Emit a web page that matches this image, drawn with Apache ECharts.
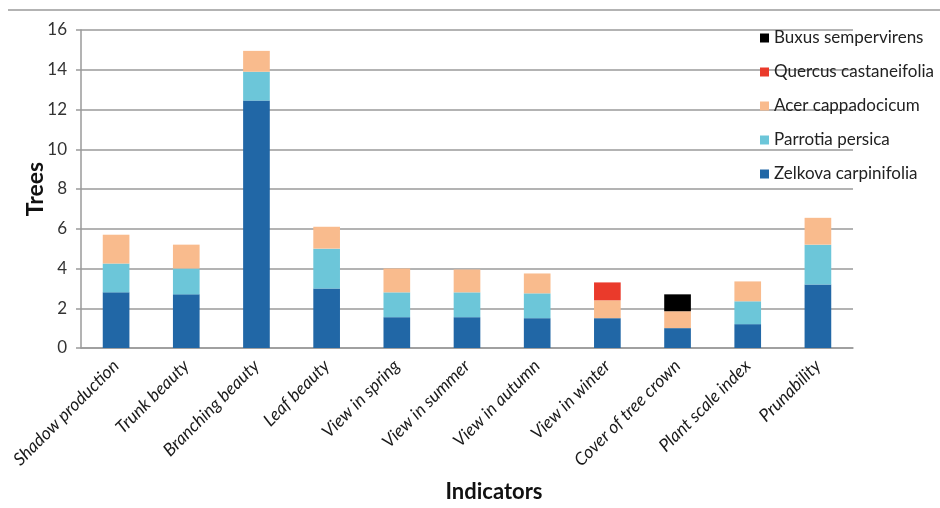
<!DOCTYPE html>
<html>
<head>
<meta charset="utf-8">
<script src="https://cdn.jsdelivr.net/npm/echarts@6/dist/echarts.min.js"></script>
<style>
  html, body { margin: 0; padding: 0; background: #fff; }
  #chart { width: 940px; height: 508px; }
</style>
</head>
<body>
<div id="chart"></div>
<script>
// Indicator categories along the x axis
var indicators = ['Shadow production', 'Trunk beauty', 'Branching beauty', 'Leaf beauty',
  'View in spring', 'View in summer', 'View in autumn', 'View in winter',
  'Cover of tree crown', 'Plant scale index', 'Prunability'];

// Stacked scores per species
var zelkova   = [2.8, 2.7, 12.45, 3.0, 1.55, 1.55, 1.5, 1.5, 1.0, 1.2, 3.2];
var parrotia  = [1.45, 1.3, 1.45, 2.0, 1.25, 1.25, 1.25, 0, 0, 1.15, 2.0];
var acer      = [1.45, 1.2, 1.05, 1.1, 1.2, 1.15, 1.0, 0.9, 0.85, 1.0, 1.35];
var quercus   = [0, 0, 0, 0, 0, 0, 0, 0.9, 0, 0, 0];
var buxus     = [0, 0, 0, 0, 0, 0, 0, 0, 0.85, 0, 0];

var yTicks = [0, 2, 4, 6, 8, 10, 12, 14, 16];

var chart = echarts.init(document.getElementById('chart'));

function bar(name, data, color) {
  return {
    name: name, type: 'bar', stack: 'total', data: data,
    barWidth: '38%',
    itemStyle: { color: color },
    emphasis: { disabled: true }
  };
}

chart.setOption({
  animation: false,
  textStyle: { fontFamily: 'Lato' },
  grid: { left: 81, right: 87, top: 30, bottom: 154, containLabel: false },
  legend: {
    orient: 'vertical',
    left: 755,
    top: 24,
    itemWidth: 9,
    itemHeight: 9,
    itemGap: 16,
    icon: 'rect',
    textStyle: { fontSize: 17, color: '#222', lineHeight: 18, fontFamily: 'Lato' },
    data: ['Buxus sempervirens', 'Quercus castaneifolia', 'Acer cappadocicum',
      'Parrotia persica', 'Zelkova carpinifolia']
  },
  graphic: [{
    type: 'line',
    shape: { x1: 8, y1: 10, x2: 940, y2: 10 },
    style: { stroke: '#9a9a9a', lineWidth: 1.5 }
  }],
  xAxis: {
    type: 'category',
    data: indicators,
    name: 'Indicators',
    nameLocation: 'middle',
    nameGap: 133,
    nameMoveOverlap: false,
    nameTextStyle: { fontSize: 22, fontWeight: 'bold', color: '#111', fontFamily: 'Lato',
      padding: [0, 0, 0, 54] },
    axisLine: { lineStyle: { color: '#9a9a9a', width: 1.5 } },
    axisTick: { alignWithLabel: false, length: 5, lineStyle: { color: '#9a9a9a', width: 1.5 } },
    axisLabel: {
      rotate: 45, interval: 0, fontSize: 17.5, fontStyle: 'italic', color: '#1a1a1a', margin: 15,
      fontFamily: 'Lato'
    }
  },
  yAxis: {
    type: 'value',
    min: yTicks[0],
    max: yTicks[yTicks.length - 1],
    interval: 2,
    name: 'Trees',
    nameLocation: 'middle',
    nameGap: 34,
    nameMoveOverlap: false,
    nameTextStyle: { fontSize: 23, fontWeight: 'bold', color: '#111', fontFamily: 'Lato' },
    axisLine: { show: true, lineStyle: { color: '#9a9a9a', width: 1.5 } },
    axisTick: { show: true, length: 5, lineStyle: { color: '#9a9a9a', width: 1.5 } },
    axisLabel: { fontSize: 17, color: '#333', margin: 14, fontFamily: 'Lato' },
    splitLine: { lineStyle: { color: '#9a9a9a', width: 1.5 } }
  },
  series: [
    bar('Zelkova carpinifolia', zelkova, '#2167a6'),
    bar('Parrotia persica', parrotia, '#6cc6d9'),
    bar('Acer cappadocicum', acer, '#f9bb8d'),
    bar('Quercus castaneifolia', quercus, '#ea3a2b'),
    bar('Buxus sempervirens', buxus, '#000000')
  ]
});
</script>
</body>
</html>
